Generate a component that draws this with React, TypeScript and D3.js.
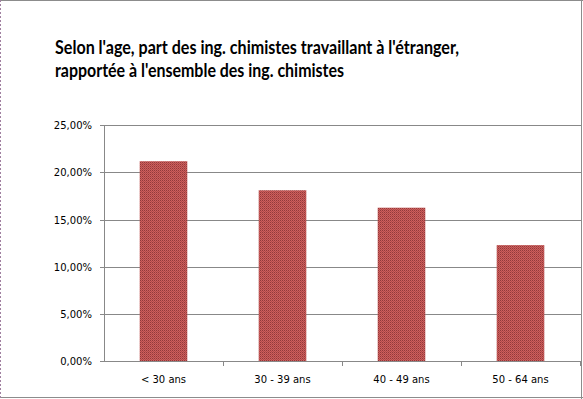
import React from "react";
import * as d3 from "d3";

const categories = ["< 30 ans", "30 - 39 ans", "40 - 49 ans", "50 - 64 ans"];
const values = [0.2119, 0.1811, 0.1626, 0.1229];
const yTicks = [0, 0.05, 0.1, 0.15, 0.2, 0.25];
const titleLines = [
  "Selon l'age, part des ing. chimistes travaillant à l'étranger,",
  "rapportée à l'ensemble des ing. chimistes",
];

const W = 583;
const H = 399;
const plot = { left: 104, right: 580, top: 125.3, bottom: 361 };

export default function App() {
  const x = d3
    .scaleBand<string>()
    .domain(categories)
    .range([plot.left, plot.right])
    .paddingInner(0.6)
    .paddingOuter(0.3);
  const bands = d3.scaleBand<string>().domain(categories).range([plot.left, plot.right]);
  const y = d3.scaleLinear().domain([0, 0.25]).range([plot.bottom, plot.top]);
  const fmt = (v: number) => (v * 100).toFixed(2).replace(".", ",") + "%";
  const axisColor = "#888888";

  return (
    <svg
      width={W}
      height={H}
      style={{ position: "absolute", left: 0, top: 0, display: "block" }}
    >
      <defs>
        <pattern id="barPat" width="2" height="2" patternUnits="userSpaceOnUse">
          <rect width="2" height="2" fill="#CD5F5D" />
          <rect width="1" height="1" fill="#93393A" />
          <rect x="1" y="1" width="1" height="1" fill="#B04A49" />
        </pattern>
      </defs>
      <rect x={0} y={0} width={W} height={H} fill="#ffffff" />
      {/* border */}
      <line x1={0} y1={0.5} x2={W} y2={0.5} stroke="#8c8c8c" />
      <line x1={W - 1.5} y1={0} x2={W - 1.5} y2={H} stroke="#8c8c8c" />
      <line x1={0} y1={H - 1.5} x2={W} y2={H - 1.5} stroke="#8c8c8c" />
      <line x1={0.5} y1={0} x2={0.5} y2={H} stroke="#a080a0" strokeDasharray="2,2" />

      {/* title */}
      {titleLines.map((t, i) => (
        <text
          key={i}
          x={55}
          y={53.5 + i * 23}
          fontFamily="Lato, 'Open Sans', sans-serif"
          fontWeight="bold"
          fontSize={18}
          fill="#000"
          textLength={i === 0 ? 404 : 289}
          lengthAdjust="spacingAndGlyphs"
        >
          {t}
        </text>
      ))}

      {/* gridlines */}
      {yTicks.map((t) => (
        <line
          key={"g" + t}
          x1={plot.left - 4}
          x2={plot.right + 1}
          y1={Math.round(y(t)) + 0.5}
          y2={Math.round(y(t)) + 0.5}
          stroke={axisColor}
        />
      ))}
      {/* y labels */}
      {yTicks.map((t) => (
        <text
          key={"l" + t}
          x={92}
          y={Math.round(y(t)) + 4}
          textAnchor="end"
          fontFamily="'DejaVu Sans', Verdana, sans-serif"
          fontSize={10}
          fill="#000"
        >
          {fmt(t)}
        </text>
      ))}
      {/* y axis */}
      <line
        x1={plot.left + 0.5}
        x2={plot.left + 0.5}
        y1={Math.round(y(0.25))}
        y2={Math.round(y(0)) + 1}
        stroke={axisColor}
      />
      {/* bars */}
      {categories.map((c, i) => (
        <rect
          key={c}
          x={x(c)}
          y={y(values[i])}
          width={x.bandwidth()}
          height={y(0) - y(values[i])}
          fill="url(#barPat)"
        />
      ))}
      {/* x axis redraw on top */}
      <line
        x1={plot.left}
        x2={plot.right + 1}
        y1={Math.round(y(0)) + 0.5}
        y2={Math.round(y(0)) + 0.5}
        stroke={axisColor}
      />
      {/* x ticks */}
      {categories.map((c) => (
        <line
          key={"t" + c}
          x1={Math.round((bands(c) as number) + bands.bandwidth()) + 0.5}
          x2={Math.round((bands(c) as number) + bands.bandwidth()) + 0.5}
          y1={Math.round(y(0))}
          y2={Math.round(y(0)) + 5}
          stroke={axisColor}
        />
      ))}
      {/* x labels */}
      {categories.map((c) => (
        <text
          key={"x" + c}
          x={(bands(c) as number) + bands.bandwidth() / 2}
          y={383}
          textAnchor="middle"
          fontFamily="'DejaVu Sans', Verdana, sans-serif"
          fontSize={10}
          fill="#000"
        >
          {c}
        </text>
      ))}
    </svg>
  );
}
